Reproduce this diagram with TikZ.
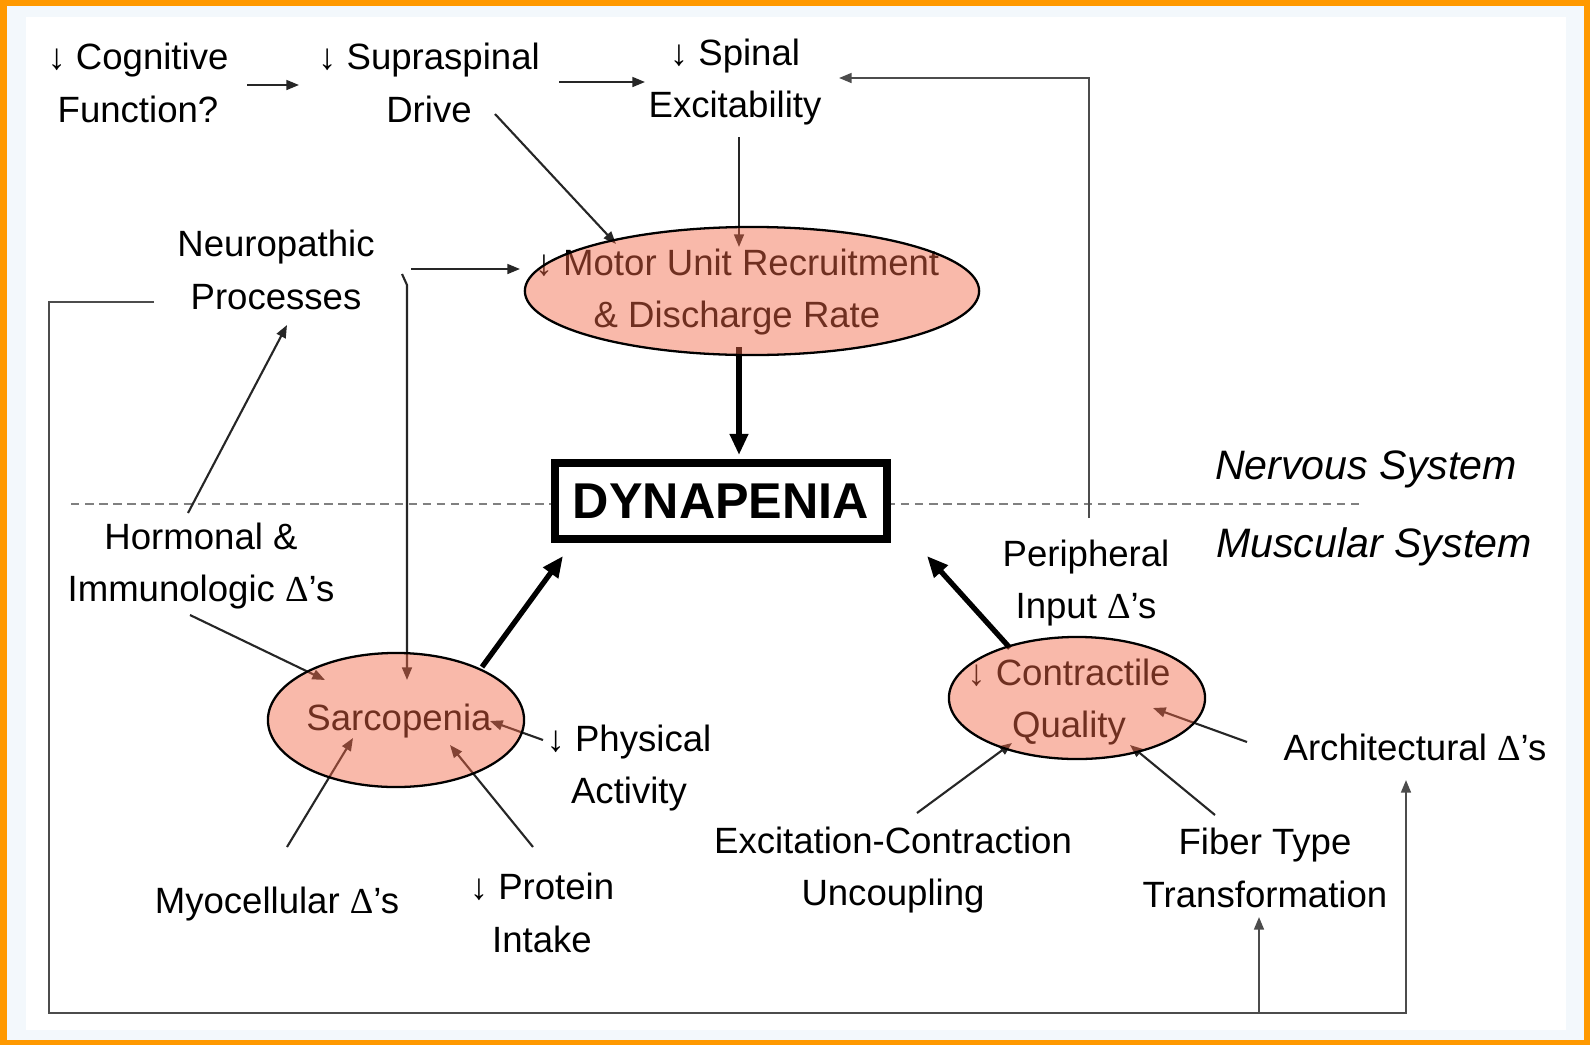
\documentclass[tikz,border=0pt]{standalone}
\usepackage{fontspec}
\setmainfont{Liberation Sans}
\newfontfamily\deltafont{Liberation Serif}
\usetikzlibrary{arrows.meta}
\usetikzlibrary{shapes.geometric}
\usetikzlibrary{calc}
\newcommand{\dlt}{{\deltafont Δ}}
\definecolor{framecol}{RGB}{255,153,0}
\definecolor{bandcol}{RGB}{243,248,252}
\definecolor{tintcol}{RGB}{242,103,70}
\tikzset{txt/.style={align=center,inner sep=2pt,font=\fontsize{10.4}{15}\selectfont},
 sys/.style={inner sep=0pt,font=\fontsize{11.7}{14}\selectfont\itshape},
 arr/.style={draw=black!85,line width=0.6pt,-{Triangle[length=3.6pt,width=2.8pt]}},
 fb/.style={arr,draw=black!70},
 bigarr/.style={line width=1.5pt,-{Triangle[length=6pt,width=5pt]}},
 bubble/.style={ellipse,draw,line width=0.65pt,fill=tintcol,fill opacity=0.46,inner sep=0pt},
 }

\begin{document}
\begin{tikzpicture}[x=0.01cm,y=-0.01cm]
\useasboundingbox (0,0) rectangle (1590,1045);
\fill[framecol] (0,0) rectangle (1590,1045);
\fill[bandcol] (7,6) rectangle (1584,1040);
\fill[white] (26,17) rectangle (1566,1030);

\draw[gray,line width=0.65pt,dash pattern=on 2.4pt off 1.6pt] (71,504) -- (1365,504);
\node[sys] (nerv) at (1366,469) {Nervous System};
\node[sys] (musc) at (1374,547) {Muscular System};

\node[txt] (cog) at (138,83) {↓ Cognitive\\Function?};
\node[txt] (supra) at (429,83) {↓ Supraspinal\\Drive};
\node[txt] (spinal) at (735,82) {↓ Spinal\\Excitability};
\node[txt] (neuro) at (276,270) {Neuropathic\\Processes};
\node[txt] (mu) at (737,292) {↓ Motor Unit Recruitment\\\& Discharge Rate};
\node[txt] (horm) at (201,566) {Hormonal \&\\Immunologic \dlt’s};
\node[txt] (sarc) at (399,721) {Sarcopenia};
\node[txt] (phys) at (629,768) {↓ Physical\\Activity};
\node[txt] (myo) at (277,904) {Myocellular \dlt’s};
\node[txt] (prot) at (542,913) {↓ Protein\\Intake};
\node[txt] (contr) at (1069,702) {↓ Contractile\\Quality};
\node[txt] (peri) at (1086,583) {Peripheral\\Input \dlt’s};
\node[txt] (arch) at (1415,747) {Architectural \dlt’s};
\node[txt] (exc) at (893,870) {Excitation-Contraction\\Uncoupling};
\node[txt] (fiber) at (1265,868) {Fiber Type\\Transformation};
\node[txt,draw,line width=2.3pt,fill=white,font=\fontsize{14.3}{16}\selectfont\bfseries,
  minimum width=3.32cm,minimum height=0.76cm] (dyn) at (721,501) {DYNAPENIA};

\draw[arr] ($(cog)+(109,2)$) -- ($(supra)+(-130,2)$);
\draw[arr] ($(supra)+(130,-1)$) -- ($(spinal)+(-90,0)$);
\draw[arr] ($(supra)+(66,31)$) -- ($(mu)+(-121,-48)$);
\draw[arr] ($(spinal)+(4,55)$) -- ($(mu)+(2,-45)$);
\draw[arr] ($(neuro)+(135,-1)$) -- ($(mu)+(-217,-23)$);
\draw[arr] ($(neuro)+(126,4)$) -- ($(neuro)+(131,15)$) -- ($(sarc)+(8,-41)$);
\draw[fb] ($(neuro)+(-122,32)$) -| (49,1013) -| ($(arch)+(-9,33)$);
\draw[fb] ($(fiber)+(-6,145)$) -- ($(fiber)+(-6,49)$);
\draw[fb] ($(peri)+(3,-65)$) |- ($(spinal)+(104,-4)$);
\draw[arr] ($(horm)+(-13,-53)$) -- ($(neuro)+(11,55)$);
\draw[arr] ($(horm)+(-11,49)$) -- ($(sarc)+(-74,-41)$);
\draw[arr] ($(phys)+(-86,-28)$) -- ($(sarc)+(91,0)$);
\draw[arr] ($(myo)+(10,-57)$) -- ($(sarc)+(-46,17)$);
\draw[arr] ($(prot)+(-9,-66)$) -- ($(sarc)+(51,24)$);
\draw[arr] ($(exc)+(24,-57)$) -- ($(contr)+(-57,41)$);
\draw[arr] ($(fiber)+(-50,-53)$) -- ($(contr)+(61,43)$);
\draw[arr] ($(arch)+(-168,-5)$) -- ($(contr)+(84,6)$);
\draw[bigarr] ($(mu)+(2,55)$) -- ($(dyn)+(18,-46)$);
\draw[bigarr] ($(sarc)+(83,-54)$) -- ($(dyn)+(-158,55)$);
\draw[bigarr] ($(contr)+(-59,-54)$) -- ($(dyn)+(206,55)$);

\node[bubble,minimum width=4.54cm,minimum height=1.28cm] (muTint) at (752,291) {};
\node[bubble,minimum width=2.56cm,minimum height=1.34cm] (sarcTint) at (396,720) {};
\node[bubble,minimum width=2.56cm,minimum height=1.22cm] (contrTint) at (1077,698) {};
\end{tikzpicture}
\end{document}
